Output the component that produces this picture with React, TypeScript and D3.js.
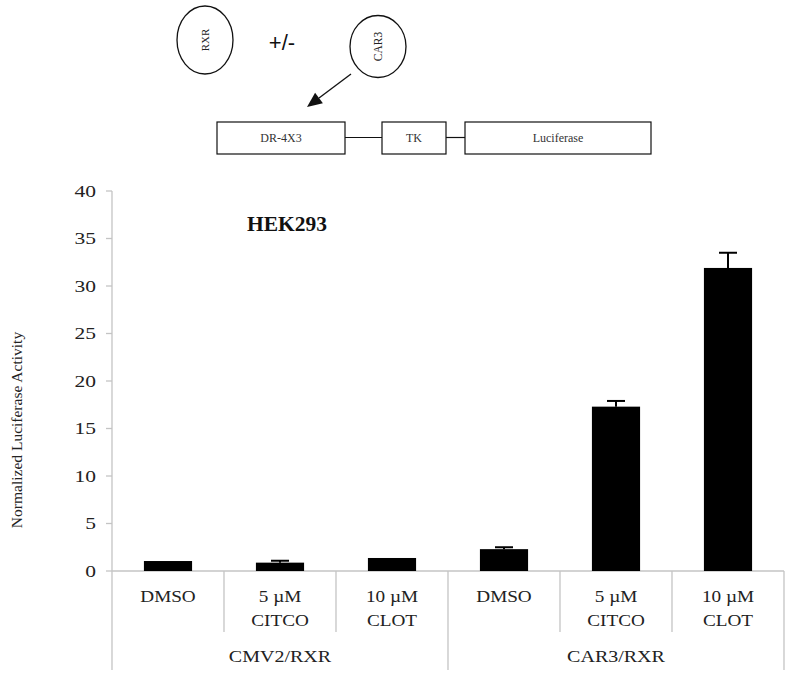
import React from "react"
import * as d3 from "d3"

// bar values
const groups = ["CMV2/RXR", "CAR3/RXR"]
const treatments = [["DMSO"], ["5 µM", "CITCO"], ["10 µM", "CLOT"]]
const values = [1.05, 0.88, 1.37, 2.3, 17.3, 31.9]
const errors = [0, 0.2, 0, 0.2, 0.6, 1.6]
const yTicks = [0, 5, 10, 15, 20, 25, 30, 35, 40]

const width = 793
const height = 679
const margin = { top: 191, right: 9, bottom: 108, left: 112 }
const serif = "'Liberation Serif', 'Times New Roman', serif"
const axisColor = "#c4c4c4"

const bars = groups.flatMap((g, gi) =>
  treatments.map((t, ti) => ({
    key: g + "-" + ti,
    group: g,
    lines: t,
    value: values[gi * treatments.length + ti],
    err: errors[gi * treatments.length + ti],
  }))
)

function Diagram() {
  const tip = [307, 107]
  const start = [351, 74]
  const dx = tip[0] - start[0]
  const dy = tip[1] - start[1]
  const len = Math.hypot(dx, dy)
  const ux = dx / len
  const uy = dy / len
  const hl = 15
  const hw = 6.5
  const bx = tip[0] - ux * hl
  const by = tip[1] - uy * hl
  const head = [
    [tip[0], tip[1]],
    [bx + uy * hw, by - ux * hw],
    [bx - uy * hw, by + ux * hw],
  ]
  const boxes = [
    { label: "DR-4X3", x0: 217, x1: 345 },
    { label: "TK", x0: 382, x1: 446 },
    { label: "Luciferase", x0: 465, x1: 651 },
  ]
  return (
    <g>
      <ellipse cx={205} cy={40} rx={28} ry={34} fill="none" stroke="#111" strokeWidth={1.3} />
      <text transform="translate(209,40) rotate(-90)" textAnchor="middle" fontFamily={serif} fontSize={11} fill="#222">
        RXR
      </text>
      <text x={282} y={50} textAnchor="middle" fontFamily="'Liberation Sans', Arial, sans-serif" fontSize={22} fill="#111">
        +/-
      </text>
      <ellipse cx={378} cy={46.5} rx={28} ry={31} fill="none" stroke="#111" strokeWidth={1.3} />
      <text transform="translate(382,46.5) rotate(-90)" textAnchor="middle" fontFamily={serif} fontSize={11.5} fill="#222">
        CAR3
      </text>
      <line x1={start[0]} y1={start[1]} x2={bx} y2={by} stroke="#111" strokeWidth={1.3} />
      <polygon points={head.map((p) => p.join(",")).join(" ")} fill="#111" />
      {boxes.map((b) => (
        <g key={b.label}>
          <rect x={b.x0} y={122} width={b.x1 - b.x0} height={32} fill="none" stroke="#111" strokeWidth={1.2} />
          <text x={(b.x0 + b.x1) / 2} y={142} textAnchor="middle" fontFamily={serif} fontSize={12} fill="#333">
            {b.label}
          </text>
        </g>
      ))}
      <line x1={345} y1={137.5} x2={382} y2={137.5} stroke="#111" strokeWidth={1.2} />
      <line x1={446} y1={137.5} x2={465} y2={137.5} stroke="#111" strokeWidth={1.2} />
    </g>
  )
}

export default function App() {
  const x = d3
    .scaleBand<string>()
    .domain(bars.map((d) => d.key))
    .range([margin.left, width - margin.right])
  const y = d3
    .scaleLinear()
    .domain([0, 40])
    .range([height - margin.bottom, margin.top])
  const bw = x.bandwidth()
  const barW = bw * 0.43
  const base = y(0)
  const bottom = 670

  return (
    <svg width={width} height={height} style={{ position: "absolute", left: 0, top: 0, background: "#fff" }}>
      <Diagram />

      {/* y axis */}
      <line x1={margin.left} y1={y(40)} x2={margin.left} y2={bottom} stroke={axisColor} strokeWidth={1.3} />
      {yTicks.map((t) => (
        <g key={t}>
          <line x1={margin.left - 6} x2={margin.left} y1={y(t)} y2={y(t)} stroke={axisColor} strokeWidth={1.3} />
          <text
            transform={`translate(96,${y(t) + 5.5}) scale(1.32,1)`}
            textAnchor="end"
            fontFamily={serif}
            fontSize={16.3}
            fill="#222"
          >
            {t}
          </text>
        </g>
      ))}
      <text
        transform={`translate(22,430) rotate(-90)`}
        textAnchor="middle"
        fontFamily={serif}
        fontSize={15.5}
        fill="#222"
      >
        Normalized Luciferase Activity
      </text>

      <text x={287} y={231} textAnchor="middle" fontFamily={serif} fontWeight="bold" fontSize={21.5} fill="#111">
        HEK293
      </text>

      {/* baseline and category dividers */}
      <line x1={margin.left} x2={width - margin.right} y1={base} y2={base} stroke={axisColor} strokeWidth={1.3} />
      {bars.map((d, i) => {
        const left = x(d.key) as number
        const isGroupEdge = i % treatments.length === 0
        return i === 0 ? null : (
          <line
            key={"div" + d.key}
            x1={left}
            x2={left}
            y1={base}
            y2={isGroupEdge ? bottom : 632}
            stroke={axisColor}
            strokeWidth={1.3}
          />
        )
      })}
      <line
        x1={width - margin.right}
        x2={width - margin.right}
        y1={base}
        y2={bottom}
        stroke={axisColor}
        strokeWidth={1.3}
      />

      {/* bars + error bars */}
      {bars.map((d) => {
        const cx = (x(d.key) as number) + bw / 2
        return (
          <g key={d.key}>
            <rect x={cx - barW / 2} y={y(d.value)} width={barW} height={base - y(d.value)} fill="#000" />
            {d.err > 0 && (
              <g stroke="#000" strokeWidth={2}>
                <line x1={cx} x2={cx} y1={y(d.value)} y2={y(d.value + d.err)} />
                <line x1={cx - 9} x2={cx + 9} y1={y(d.value + d.err)} y2={y(d.value + d.err)} />
              </g>
            )}
          </g>
        )
      })}

      {/* category labels */}
      {bars.map((d) => {
        const cx = (x(d.key) as number) + bw / 2
        return d.lines.map((ln, li) => (
          <text
            key={d.key + li}
            transform={`translate(${cx},${601.5 + li * 24}) scale(1.2,1)`}
            textAnchor="middle"
            fontFamily={serif}
            fontSize={16}
            fill="#222"
          >
            {ln}
          </text>
        ))
      })}

      {/* group labels */}
      {groups.map((g, gi) => {
        const first = x(bars[gi * treatments.length].key) as number
        const last = (x(bars[gi * treatments.length + treatments.length - 1].key) as number) + bw
        return (
          <text
            key={g}
            transform={`translate(${(first + last) / 2},${661.5}) scale(1.25,1)`}
            textAnchor="middle"
            fontFamily={serif}
            fontSize={16}
            fill="#222"
          >
            {g}
          </text>
        )
      })}
    </svg>
  )
}
